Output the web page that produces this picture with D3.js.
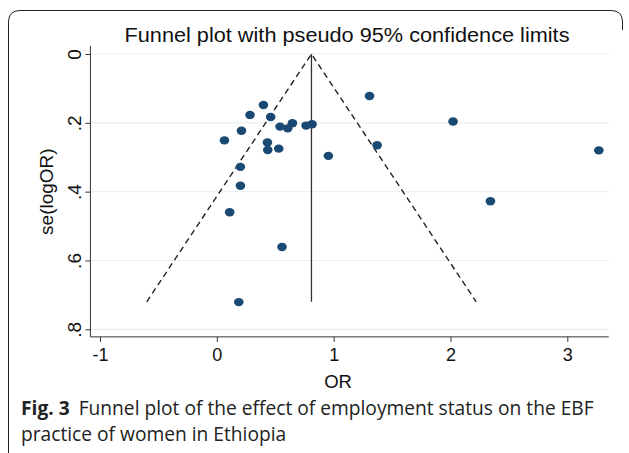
<!DOCTYPE html>
<html>
<head>
<meta charset="utf-8">
<script src="https://cdn.jsdelivr.net/npm/d3@7"></script>
<style>
  body { margin: 0; background: #fff; }
  text { font-family: "Liberation Sans", Arial, sans-serif; }
</style>
</head>
<body>
<div id="graph1"></div>
<script>
// study estimates
let orValues = [0.399, 0.284, 0.461, 0.211, 0.065, 0.541, 0.607, 0.647, 0.764, 0.815,
    0.433, 0.436, 0.530, 0.202, 0.955, 0.202, 0.110, 0.558, 0.188, 1.307,
    2.022, 1.372, 3.270, 2.342];
let seValues = [0.148, 0.177, 0.183, 0.223, 0.251, 0.211, 0.216, 0.201, 0.208, 0.204,
    0.257, 0.279, 0.275, 0.328, 0.296, 0.383, 0.460, 0.561, 0.721, 0.122,
    0.196, 0.265, 0.280, 0.428];

// pseudo 95% limits + pooled estimate
let funnelX = [-0.60, 0.81, 2.22];
let funnelY = [0.72, 0, 0.72];
let pooledX = [0.81, 0.81];
let pooledY = [0, 0.72];

let xTicks = [-1, 0, 1, 2, 3];
let yTicks = [0, 0.2, 0.4, 0.6, 0.8];
let yTickLabels = ["0", ".2", ".4", ".6", ".8"];

let width = 629, height = 453;

let svg = d3.select("#graph1")
    .append("svg")
    .attr("width", width)
    .attr("height", height);

// frame of the figure
svg.append("path")
    .attr("d", "M8.5,453 L8.5,22 Q8.5,10.5 20,10.5 L611,10.5 Q622.5,10.5 622.5,22 L622.5,30")
    .attr("fill", "none")
    .attr("stroke", "#222")
    .attr("stroke-width", 1);

let x = d3.scaleLinear().domain([-1, 3]).range([100, 567.3]);
let y = d3.scaleLinear().domain([0, 0.8]).range([54, 329.3]);

// grid
svg.append("g").selectAll("line").data(yTicks)
    .enter().append("line")
    .attr("x1", x(-1.08)).attr("x2", x(3.355))
    .attr("y1", d => y(d)).attr("y2", d => y(d))
    .attr("stroke", "#e8f0f2")
    .attr("stroke-width", 1.2);

// axes
let xAxis = svg.append("g")
    .attr("transform", `translate(0, ${y(0.822)})`)
    .call(d3.axisBottom(x).tickValues(xTicks).tickSize(5).tickPadding(6).tickFormat(d => String(d)));
xAxis.select(".domain").remove();
xAxis.append("line")
    .attr("x1", x(-1.082)).attr("x2", x(3.355))
    .attr("stroke", "#333");
xAxis.selectAll(".tick line").attr("stroke", "#333");
xAxis.selectAll("text").style("font-size", "18px").attr("fill", "#111")
    .style("font-family", "Liberation Sans, Arial, sans-serif");

let yAxis = svg.append("g")
    .attr("transform", `translate(${x(-1.082)}, 0)`)
    .call(d3.axisLeft(y).tickValues(yTicks).tickSize(5).tickPadding(0).tickFormat((d, i) => yTickLabels[i]));
yAxis.select(".domain").remove();
yAxis.append("line")
    .attr("y1", y(-0.024)).attr("y2", y(0.822))
    .attr("stroke", "#333");
yAxis.selectAll(".tick line").attr("stroke", "#333");
yAxis.selectAll("text")
    .attr("x", 0).attr("y", 0)
    .attr("transform", "translate(-9, 0) rotate(-90)")
    .attr("text-anchor", "middle")
    .attr("dy", 0)
    .style("font-size", "19px").attr("fill", "#111")
    .style("font-family", "Liberation Sans, Arial, sans-serif");

// funnel lines
let line = d3.line().x(d => x(d[0])).y(d => y(d[1]));
svg.append("path")
    .datum(funnelX.map((d, i) => [d, funnelY[i]]))
    .attr("d", line)
    .attr("fill", "none")
    .attr("stroke", "#222")
    .attr("stroke-width", 1.4)
    .attr("stroke-dasharray", "6,4");
svg.append("path")
    .datum(pooledX.map((d, i) => [d, pooledY[i]]))
    .attr("d", line)
    .attr("fill", "none")
    .attr("stroke", "#333")
    .attr("stroke-width", 1.3);

// studies
svg.append("g").selectAll("ellipse").data(orValues)
    .enter().append("ellipse")
    .attr("cx", d => x(d))
    .attr("cy", (d, i) => y(seValues[i]))
    .attr("rx", 4.8)
    .attr("ry", 4.2)
    .attr("fill", "#1a4a73");

// titles
svg.append("text")
    .attr("x", 347).attr("y", 42)
    .style("text-anchor", "middle")
    .style("font-size", "19.5px")
    .attr("textLength", 445)
    .attr("lengthAdjust", "spacingAndGlyphs")
    .attr("fill", "#111")
    .text("Funnel plot with pseudo 95% confidence limits");

svg.append("text")
    .attr("x", 338).attr("y", 388)
    .style("text-anchor", "middle")
    .style("font-size", "18.5px")
    .attr("fill", "#111")
    .text("OR");

svg.append("text")
    .attr("transform", `translate(53, ${y(0.4)}) rotate(-90)`)
    .style("text-anchor", "middle")
    .style("font-size", "19px")
    .attr("fill", "#111")
    .text("se(logOR)");

// caption
let cap = svg.append("text")
    .attr("x", 21).attr("y", 415)
    .style("font-family", "Open Sans, sans-serif")
    .style("font-size", "19.2px")
    .attr("fill", "#222");
cap.append("tspan").style("font-weight", "bold").text("Fig. 3");
cap.append("tspan").attr("dx", 9).text("Funnel plot of the effect of employment status on the EBF");
svg.append("text")
    .attr("x", 21).attr("y", 441)
    .style("font-family", "Open Sans, sans-serif")
    .style("font-size", "19.2px")
    .attr("fill", "#222")
    .text("practice of women in Ethiopia");
</script>
</body>
</html>
